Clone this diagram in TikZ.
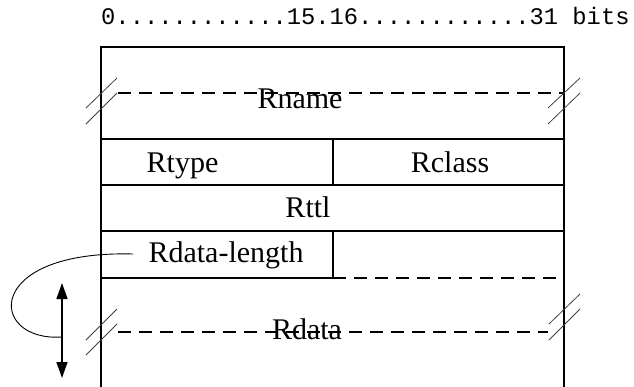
\documentclass[tikz,border=0pt]{standalone}
\usepackage{fontspec}
\setmainfont{Liberation Serif}
\setmonofont{Liberation Mono}
\usetikzlibrary{arrows.meta}
\begin{document}
\begin{tikzpicture}[x=1pt,y=-1pt,
  boxline/.style={line width=1.4pt,line cap=rect},
  dashline/.style={line width=1.2pt,dash pattern=on 13pt off 8pt},
  cutmark/.style={line width=0.8pt,black!75},
  fieldlabel/.style={font=\fontsize{30}{32}\selectfont,anchor=base,inner sep=0pt},
  bitslabel/.style={font=\ttfamily\fontsize{23.8}{26}\selectfont,anchor=base west,inner sep=0pt},
  lenarrow/.style={line width=1.4pt,{Triangle[length=16pt,width=11pt]}-{Triangle[length=16pt,width=11pt]}},
  loopcurve/.style={line width=0.9pt}]
\useasboundingbox (0,0) rectangle (634,386);
% corners and rows
\coordinate (tl) at (101,47);
\coordinate (tr) at (564,47);
\coordinate (bl) at (101,386);
\coordinate (br) at (564,386);
\coordinate (r1l) at (101,139); \coordinate (r1r) at (564,139);
\coordinate (r2l) at (101,185); \coordinate (r2r) at (564,185);
\coordinate (r3l) at (101,231); \coordinate (r3r) at (564,231);
\coordinate (r4l) at (101,278); \coordinate (r4m) at (333,278); \coordinate (r4r) at (564,278);
\coordinate (d1t) at (333,139); \coordinate (d1b) at (333,185);
\coordinate (d2t) at (333,231);
% bits label
\node[bitslabel] (bits) at (101,24) {0............15.16............31 bits};
% box
\draw[boxline] (bl) -- (tl) -- (tr) -- (br);
\draw[boxline] (r1l) -- (r1r);
\draw[boxline] (r2l) -- (r2r);
\draw[boxline] (r3l) -- (r3r);
\draw[boxline] (r4l) -- (r4m) -- (d2t);
\draw[boxline] (d1t) -- (d1b);
\draw[dashline] (r4m) -- (r4r);
% Rname dashed + cut marks
\coordinate (nl) at (118,93); \coordinate (nr) at (564,93);
\draw[dashline] (nl) -- (nr);
\coordinate (c1a) at (86,108); \coordinate (c1b) at (117,78);
\coordinate (c2a) at (86,124); \coordinate (c2b) at (117,93);
\draw[cutmark] (c1a) -- (c1b);
\draw[cutmark] (c2a) -- (c2b);
\coordinate (c3a) at (548,108); \coordinate (c3b) at (580,78);
\coordinate (c4a) at (548,124); \coordinate (c4b) at (580,93);
\draw[cutmark] (c3a) -- (c3b);
\draw[cutmark] (c4a) -- (c4b);
% Rdata dashed + cut marks
\coordinate (dl) at (118,332); \coordinate (dr) at (548,332);
\draw[dashline] (dl) -- (dr);
\coordinate (c5a) at (86,340); \coordinate (c5b) at (117,309);
\coordinate (c6a) at (86,355); \coordinate (c6b) at (117,324);
\draw[cutmark] (c5a) -- (c5b);
\draw[cutmark] (c6a) -- (c6b);
\coordinate (c7a) at (549,324); \coordinate (c7b) at (580,294);
\coordinate (c8a) at (549,340); \coordinate (c8b) at (580,309);
\draw[cutmark] (c7a) -- (c7b);
\draw[cutmark] (c8a) -- (c8b);
% labels
\node[fieldlabel] (rname) at (300,108) {Rname};
\node[fieldlabel] (rtype) at (182.5,172) {Rtype};
\node[fieldlabel] (rclass) at (450,172) {Rclass};
\node[fieldlabel] (rttl) at (308,217) {Rttl};
\node[fieldlabel] (rdlen) at (226,262) {Rdata-length};
\node[fieldlabel] (rdata) at (307,339) {Rdata};
% length arrow and loop
\coordinate (atop) at (62,283);
\coordinate (abot) at (62,378);
\draw[lenarrow] (atop) -- (abot);
\coordinate (cstart) at (133,254);
\coordinate (cend) at (62,337);
\draw[loopcurve] (cstart) .. controls (-18,250) and (-12,342) .. (cend);
\end{tikzpicture}
\end{document}
